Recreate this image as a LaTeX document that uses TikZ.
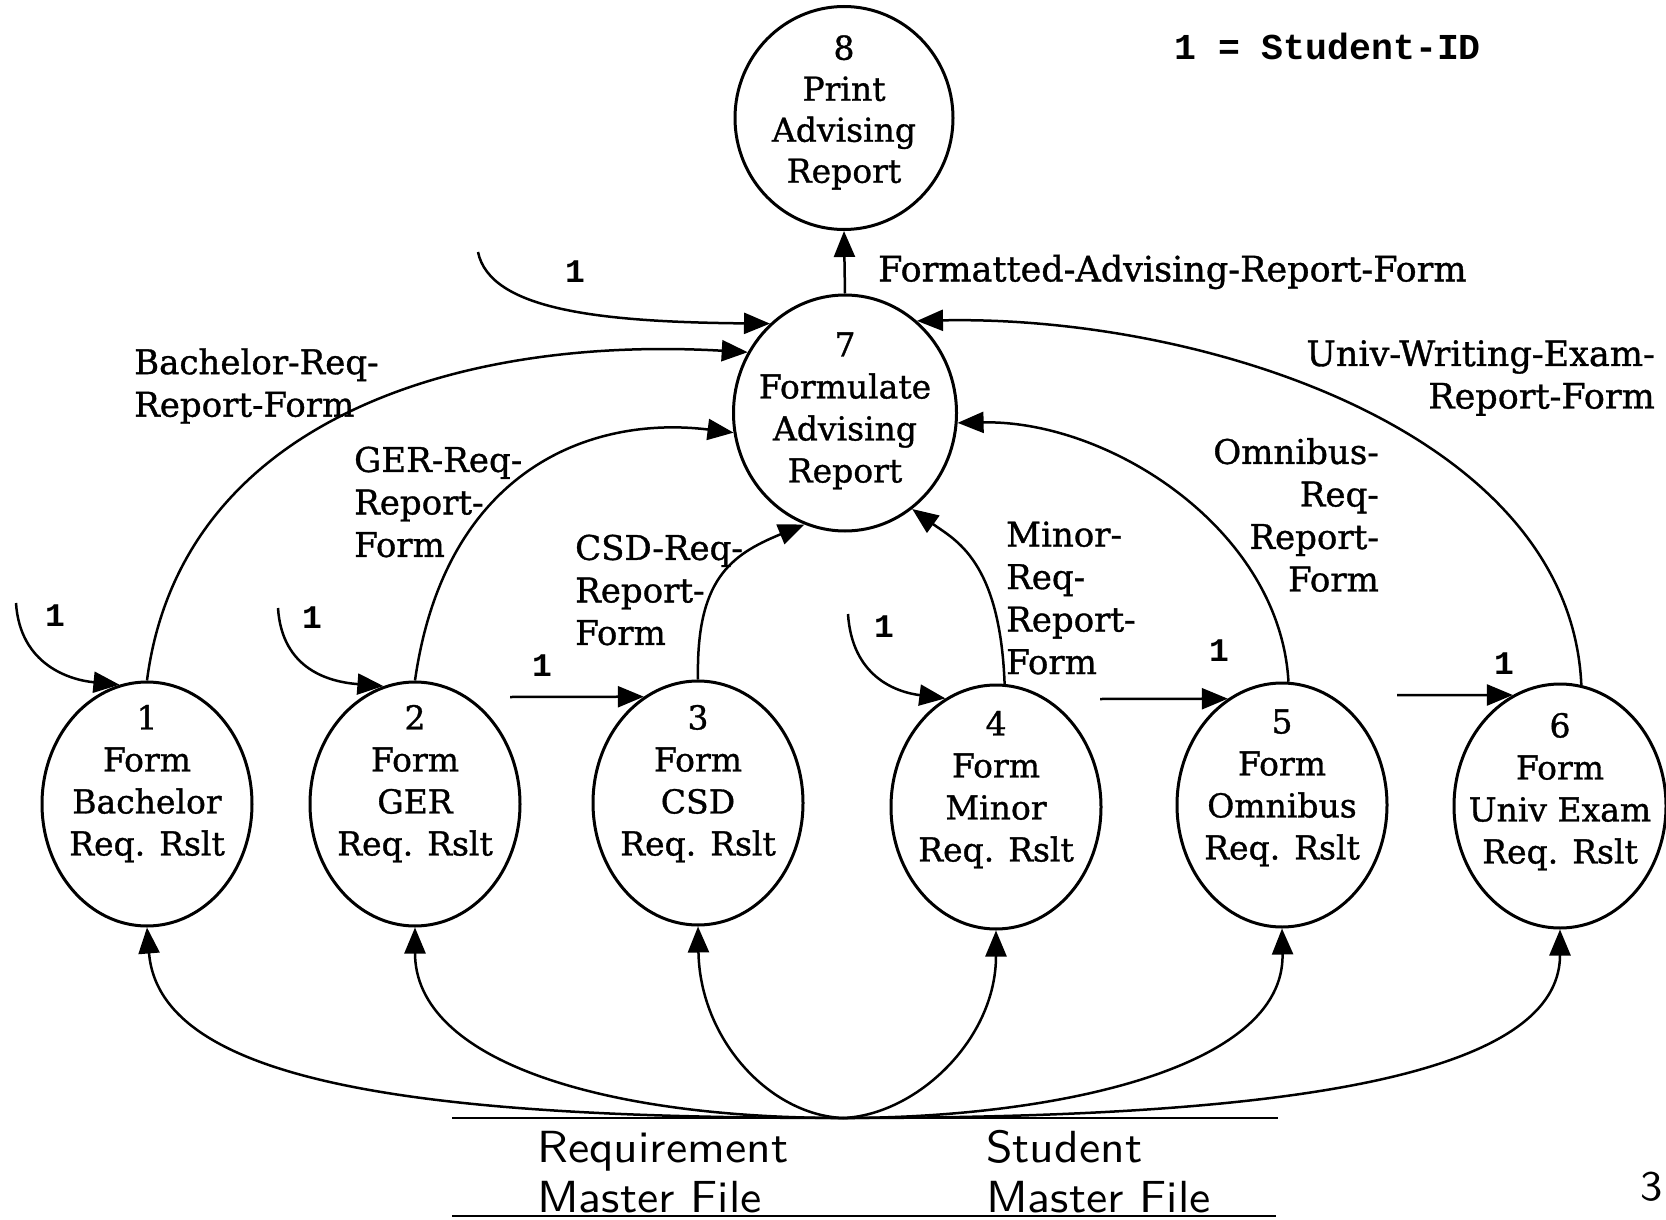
\documentclass[tikz,border=0pt]{standalone}
\usepackage{fontspec}
\setmonofont{Liberation Mono}
\newfontfamily\dfdfont{DejaVu Serif}[FakeBold=1]
\newfontfamily\storefont{lmsans10-regular.otf}[FakeStretch=1.06]
\usetikzlibrary{shapes.geometric,arrows.meta}
% process bubble text: number line then name lines, lifted by #1;
% the text takes no room, so the bubble keeps its own size
\newcommand\proctext[3]{\raisebox{\dimexpr#1-8.25pt\relax}[0pt][0pt]{\makebox[0pt]{\begin{tabular}{@{}c@{}}#2\\#3\end{tabular}}}}
\begin{document}
\begin{tikzpicture}[x=1pt,y=-1pt,
  proc/.style={draw, ellipse, line width=3pt, inner sep=0pt,
    minimum width=210pt, minimum height=244pt,
    font=\dfdfont\fontsize{33}{42}\selectfont},
  flow/.style={line width=2.5pt, -{Triangle[length=26pt,width=21pt]}},
  lbl/.style={font=\dfdfont\fontsize{34}{42.5}\selectfont, inner sep=0pt},
  one/.style={font=\ttfamily\bfseries\fontsize{33}{40}\selectfont, inner sep=0pt},
  storetext/.style={font=\storefont\fontsize{45}{50}\selectfont, inner sep=0pt, align=left},
  storeline/.style={line width=2.6pt}]
\useasboundingbox (0,0) rectangle (1666,1220);

% processes
\node[proc, minimum width=218pt, minimum height=223pt, font=\dfdfont\fontsize{33}{41}\selectfont] (n8) at (844,118) {\proctext{7pt}{8}{Print\\Advising\\Report}};
\node[proc, minimum width=223pt, minimum height=236pt] (n7) at (845,413) {\proctext{4pt}{7}{Formulate\\Advising\\Report}};
\node[proc] (n1) at (147,804) {\proctext{22pt}{1}{Form\\Bachelor\\Req. Rslt}};
\node[proc] (n2) at (415,804) {\proctext{22pt}{2}{Form\\GER\\Req. Rslt}};
\node[proc] (n3) at (698,803) {\proctext{21pt}{3}{Form\\CSD\\Req. Rslt}};
\node[proc] (n4) at (996,807) {\proctext{19pt}{4}{Form\\Minor\\Req. Rslt}};
\node[proc] (n5) at (1282,805) {\proctext{19pt}{5}{Form\\Omnibus\\Req. Rslt}};
\node[proc, minimum width=212pt] (n6) at (1560,806) {\proctext{16pt}{6}{Form\\Univ Exam\\Req. Rslt}};

% key
\node[anchor=west, inner sep=0pt, font=\ttfamily\bfseries\fontsize{36.5}{40}\selectfont] (key) at (1174,46) {1 = Student-ID};

% report to printing
\draw[flow] (n7.north) -- (n8.south);
\node[lbl, anchor=west, font=\dfdfont\fontsize{35}{42.5}\selectfont] (lfmt) at (878,272) {Formatted-Advising-Report-Form};

% student id into 7
\coordinate (i7) at (478,252);
\draw[flow] (i7) .. controls (490,310) and (600,322) .. (n7.130);
\node[one] (k7) at (575,272) {1};

% requirement report forms into 7
\draw[flow] (n1.north) .. controls (180,425) and (450,335) .. (n7.148);
\node[lbl, anchor=west, align=left] (lbach) at (134,386) {Bachelor-Req-\\Report-Form};
\draw[flow] (n2.north) .. controls (445,470) and (590,415) .. (n7.190);
\node[lbl, anchor=west, align=left] (lger) at (354,502) {GER-Req-\\Report-\\Form};
\draw[flow] (n3.north) .. controls (696,580) and (730,555) .. (n7.250);
\node[lbl, anchor=west, align=left] (lcsd) at (575,590) {CSD-Req-\\Report-\\Form};
\draw[flow] (n4.86) .. controls (1000,560) and (955,540) .. (n7.305);
\node[lbl, anchor=west, align=left] (lmin) at (1006,598) {Minor-\\Req-\\Report-\\Form};
\draw[flow] (n5.87) .. controls (1280,530) and (1110,420) .. (n7.355);
\node[lbl, anchor=east, align=right] (lomn) at (1379,515) {Omnibus-\\Req-\\Report-\\Form};
\draw[flow] (n6.80) .. controls (1570,430) and (1200,315) .. (n7.52);
\node[lbl, anchor=east, align=right, font=\dfdfont\fontsize{35}{42.5}\selectfont] (luniv) at (1655,378) {Univ-Writing-Exam-\\Report-Form};

% student id into 1..6
\coordinate (s1) at (16,603);
\draw[flow] (s1) .. controls (20,665) and (70,680) .. (n1.103);
\node[one] (k1) at (55,616) {1};
\coordinate (s2) at (278,608);
\draw[flow] (s2) .. controls (282,670) and (330,682) .. (n2.105);
\node[one] (k2) at (312,618) {1};
\coordinate (s3) at (510,697);
\draw[flow] (s3) -- (n3.117);
\node[one] (k3) at (542,666) {1};
\coordinate (s4) at (848,614);
\draw[flow] (s4) .. controls (852,676) and (895,692) .. (n4.115);
\node[one] (k4) at (884,627) {1};
\coordinate (s5) at (1100,699);
\draw[flow] (s5) -- (n5.117);
\node[one] (k5) at (1219,651) {1};
\coordinate (s6) at (1397,695);
\draw[flow] (s6) -- (n6.113);
\node[one] (k6) at (1504,664) {1};

% data stores
\draw[storeline] (452,1118) -- (1278,1118);
\draw[storeline] (452,1216) -- (1276,1216);
\node[storetext, anchor=west] (req) at (537,1172) {Requirement\\Master File};
\node[storetext, anchor=west] (stu) at (986,1172) {Student\\Master File};
\coordinate (st) at (843,1118);
\draw[flow] (st) .. controls (450,1118) and (160,1090) .. (n1.south);
\draw[flow] (st) .. controls (600,1118) and (415,1060) .. (n2.south);
\draw[flow] (st) .. controls (770,1115) and (700,1040) .. (n3.south);
\draw[flow] (st) .. controls (916,1115) and (996,1040) .. (n4.south);
\draw[flow] (st) .. controls (1050,1118) and (1285,1070) .. (n5.south);
\draw[flow] (st) .. controls (1220,1118) and (1560,1090) .. (n6.south);

% page number
\node[font=\storefont\fontsize{42}{45}\selectfont, inner sep=0pt] (pg) at (1652,1187) {3};
\end{tikzpicture}
\end{document}
